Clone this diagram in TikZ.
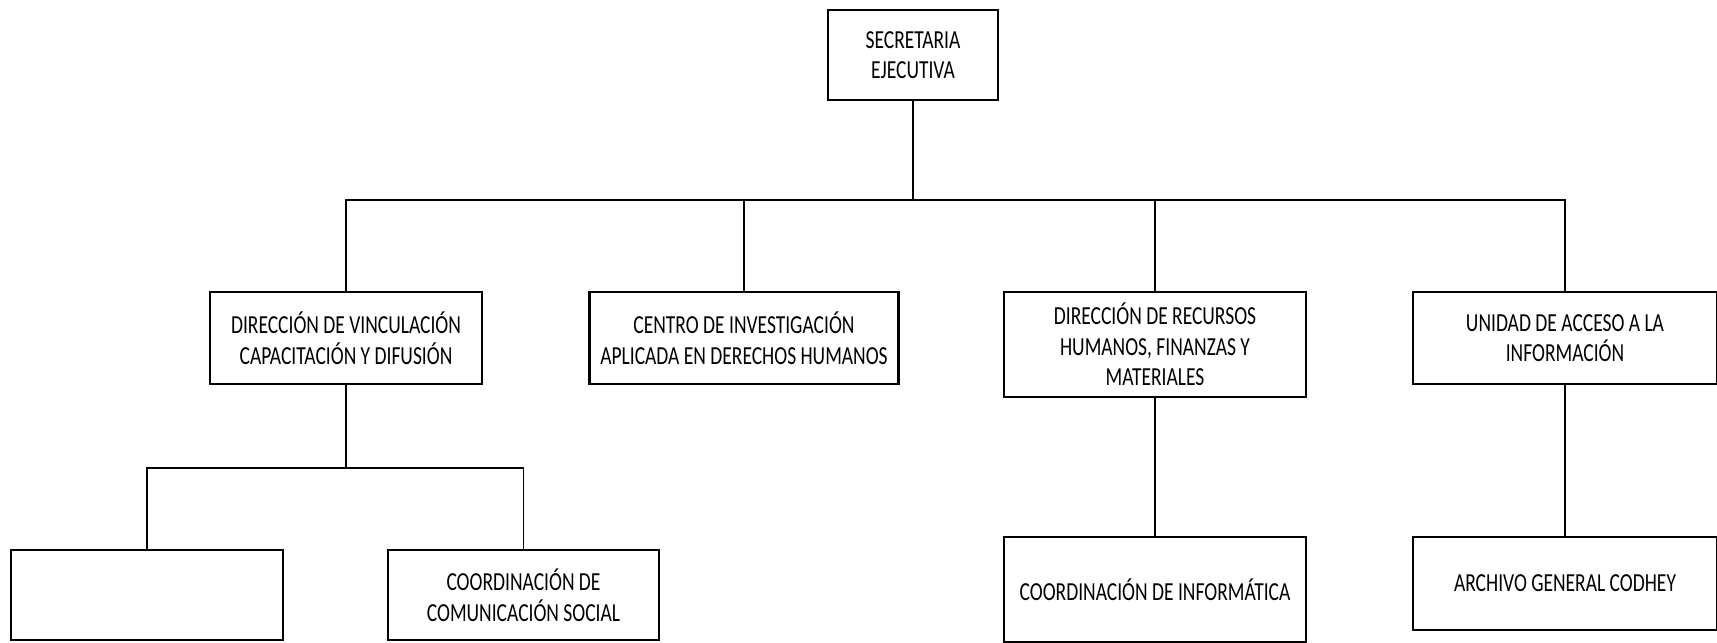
\documentclass[tikz,border=0pt]{standalone}
\usepackage{fontspec}
\setmainfont{Carlito}[FakeStretch=0.75]
\begin{document}
\begin{tikzpicture}[x=0.5pt, y=-0.5pt,
    unit/.style={rectangle, draw=black, line width=1.1pt, align=center,
      inner sep=0pt, font=\fontsize{13}{15.3}\selectfont},
    link/.style={line width=0.9pt}]
      \useasboundingbox (0,0) rectangle (1717,642);
      % top
      \node[unit, minimum width=85pt, minimum height=45pt](sec) at (913,55) {SECRETARIA\\EJECUTIVA};
      % second level
      \node[unit, minimum width=136pt, minimum height=46pt](dvcd) at (346,338) {DIRECCIÓN DE VINCULACIÓN\\CAPACITACIÓN Y DIFUSIÓN};
      \node[unit, minimum width=154.5pt, minimum height=46pt](ciadh) at (744,338) {CENTRO DE INVESTIGACIÓN\\APLICADA EN DERECHOS HUMANOS};
      \node[unit, minimum width=151pt, minimum height=52.5pt](drhfm) at (1155,344.5) {DIRECCIÓN DE RECURSOS\\HUMANOS, FINANZAS Y\\MATERIALES};
      \node[unit, minimum width=152pt, minimum height=46pt](uai) at (1565,338) {UNIDAD DE ACCESO A LA\\INFORMACIÓN};
      % third level
      \node[unit, minimum width=136pt, minimum height=45pt](blank) at (147,595) {};
      \node[unit, minimum width=135.5pt, minimum height=45pt](ccs) at (523.5,595) {COORDINACIÓN DE\\COMUNICACIÓN SOCIAL};
      \node[unit, minimum width=151pt, minimum height=52.5pt](ci) at (1155,589.5) {COORDINACIÓN DE INFORMÁTICA};
      \node[unit, minimum width=152pt, minimum height=46.5pt](acg) at (1565,583.5) {ARCHIVO GENERAL CODHEY};

      \coordinate (busA) at (913,200);
      \coordinate (subA) at (346,468);

      \draw[link] (sec.south) -- (busA);
      \draw[link] (dvcd.north) |- (busA) -| (uai.north);
      \draw[link] (ciadh.north) |- (busA);
      \draw[link] (drhfm.north) |- (busA);
      \draw[link] (dvcd.south) -- (subA);
      \draw[link] (blank.north) |- (subA) -| (ccs.north);
      \draw[link] (drhfm.south) -- (ci.north);
      \draw[link] (uai.south) -- (acg.north);
    \end{tikzpicture}
\end{document}
